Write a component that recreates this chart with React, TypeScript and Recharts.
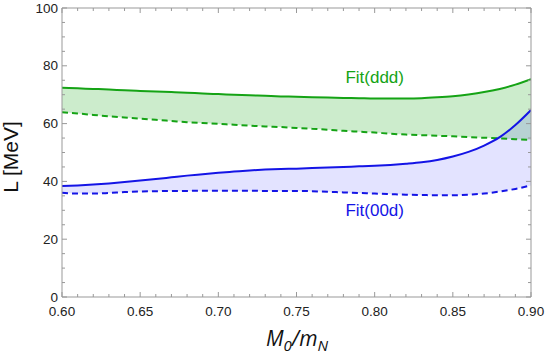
import { ComposedChart, Area, Line, XAxis, YAxis, ReferenceDot } from 'recharts'

// x = M0/mN
const xs = [0.6, 0.61, 0.62, 0.63, 0.64, 0.65, 0.66, 0.67, 0.68, 0.69, 0.7, 0.71, 0.72, 0.73, 0.74, 0.75,
  0.76, 0.77, 0.78, 0.79, 0.8, 0.81, 0.82, 0.83, 0.84, 0.85, 0.86, 0.87, 0.88, 0.89, 0.9]

// Fit(ddd) upper (solid) and lower (dashed)
const dddSolid = [72.4, 72.2, 72.0, 71.8, 71.5, 71.3, 71.1, 70.9, 70.7, 70.4, 70.2, 70.0, 69.8, 69.6, 69.4, 69.3,
  69.1, 69.0, 68.9, 68.8, 68.7, 68.7, 68.7, 68.8, 69.1, 69.5, 70.1, 70.9, 72.0, 73.5, 75.4]
const dddDashed = [63.9, 63.5, 63.0, 62.5, 62.1, 61.7, 61.3, 60.9, 60.5, 60.2, 59.9, 59.6, 59.3, 59.0, 58.8, 58.5,
  58.2, 57.9, 57.5, 57.2, 56.9, 56.5, 56.2, 56.0, 55.8, 55.6, 55.3, 55.1, 54.9, 54.6, 54.4]

// Fit(00d)
const d00Solid = [38.4, 38.6, 38.9, 39.3, 39.8, 40.3, 40.8, 41.4, 42.0, 42.5, 43.0, 43.4, 43.8, 44.1, 44.3, 44.4,
  44.6, 44.8, 45.0, 45.2, 45.4, 45.7, 46.1, 46.6, 47.4, 48.6, 50.2, 52.4, 55.3, 59.5, 64.7]
const d00Dashed = [36.1, 35.8, 35.8, 36.0, 36.3, 36.5, 36.6, 36.7, 36.7, 36.8, 36.8, 36.8, 36.8, 36.7, 36.7, 36.7,
  36.6, 36.4, 36.2, 36.0, 35.8, 35.6, 35.4, 35.3, 35.2, 35.2, 35.4, 35.8, 36.5, 37.4, 38.6]

const xTicks = xs
const yTicks = [0, 5, 10, 15, 20, 25, 30, 35, 40, 45, 50, 55, 60, 65, 70, 75, 80, 85, 90, 95, 100]

const GREEN = '#15a315'
const BLUE = '#1414e6'
const FRAME = '#999999'
const FONT = 'Liberation Sans, Arial, sans-serif'

const data = xs.map((x, i) => ({
  x,
  gs: dddSolid[i],
  gd: dddDashed[i],
  g: [dddDashed[i], dddSolid[i]],
  bs: d00Solid[i],
  bd: d00Dashed[i],
  b: [d00Dashed[i], d00Solid[i]],
}))

const isMajorX = (v: number) => Math.round(v * 100) % 5 === 0
const isMajorY = (v: number) => v % 20 === 0

function BottomTick(props: any) {
  const { x, y, payload } = props
  const major = isMajorX(payload.value)
  return (
    <g>
      <line x1={x} x2={x} y1={y} y2={y - (major ? 5 : 3)} stroke={FRAME} />
      {major && (
        <text x={x} y={y + 19} textAnchor="middle" fontSize={13.5} fontFamily={FONT} fill="#222">
          {payload.value.toFixed(2)}
        </text>
      )}
    </g>
  )
}

function TopTick(props: any) {
  const { x, y, payload } = props
  const major = isMajorX(payload.value)
  return <line x1={x} x2={x} y1={y} y2={y + (major ? 5 : 3)} stroke={FRAME} />
}

function LeftTick(props: any) {
  const { x, y, payload } = props
  const major = isMajorY(payload.value)
  return (
    <g>
      <line x1={x} x2={x + (major ? 5 : 3)} y1={y} y2={y} stroke={FRAME} />
      {major && (
        <text x={x - 4} y={y + 4.5} textAnchor="end" fontSize={13.5} fontFamily={FONT} fill="#222">
          {payload.value}
        </text>
      )}
    </g>
  )
}

function RightTick(props: any) {
  const { x, y, payload } = props
  const major = isMajorY(payload.value)
  return <line x1={x} x2={x - (major ? 5 : 3)} y1={y} y2={y} stroke={FRAME} />
}

export default function App() {
  return (
    <div style={{ position: 'absolute', left: 0, top: 0, width: 548, height: 354, background: '#fff' }}>
      <ComposedChart width={548} height={354} data={data} margin={{ top: 0, right: 0, bottom: 27, left: 0 }}>
        <XAxis xAxisId="b" dataKey="x" type="number" domain={[0.6, 0.9]} ticks={xTicks} interval={0}
          height={30} tickSize={0} tickMargin={0} stroke={FRAME} tick={<BottomTick />} allowDataOverflow />
        <XAxis xAxisId="t" orientation="top" dataKey="x" type="number" domain={[0.6, 0.9]} ticks={xTicks} interval={0}
          height={8} tickSize={0} tickMargin={0} stroke={FRAME} tick={<TopTick />} allowDataOverflow />
        <YAxis yAxisId="l" type="number" domain={[0, 100]} ticks={yTicks} interval={0}
          width={62} tickSize={0} tickMargin={0} stroke={FRAME} tick={<LeftTick />} allowDataOverflow />
        <YAxis yAxisId="r" orientation="right" type="number" domain={[0, 100]} ticks={yTicks} interval={0}
          width={17} tickSize={0} tickMargin={0} stroke={FRAME} tick={<RightTick />} allowDataOverflow />

        <Area xAxisId="b" yAxisId="l" type="monotone" dataKey="g" stroke="none" fill="#00a000" fillOpacity={0.2} isAnimationActive={false} />
        <Area xAxisId="b" yAxisId="l" type="monotone" dataKey="b" stroke="none" fill="#4040ff" fillOpacity={0.15} isAnimationActive={false} />

        <Line xAxisId="b" yAxisId="l" type="monotone" dataKey="gs" stroke={GREEN} strokeWidth={2} dot={false} isAnimationActive={false} />
        <Line xAxisId="b" yAxisId="l" type="monotone" dataKey="gd" stroke={GREEN} strokeWidth={2} strokeDasharray="6 4" dot={false} isAnimationActive={false} />
        <Line xAxisId="b" yAxisId="l" type="monotone" dataKey="bs" stroke={BLUE} strokeWidth={2} dot={false} isAnimationActive={false} />
        <Line xAxisId="b" yAxisId="l" type="monotone" dataKey="bd" stroke={BLUE} strokeWidth={2} strokeDasharray="6 4" dot={false} isAnimationActive={false} />

        <ReferenceDot xAxisId="b" yAxisId="l" x={0.8} y={76} r={0} stroke="none"
          label={{ value: 'Fit(ddd)', position: 'center', fill: GREEN, fontSize: 17, fontFamily: FONT }} />
        <ReferenceDot xAxisId="b" yAxisId="l" x={0.8} y={30} r={0} stroke="none"
          label={{ value: 'Fit(00d)', position: 'center', fill: BLUE, fontSize: 17, fontFamily: FONT }} />
      </ComposedChart>
      <div style={{ position: 'absolute', left: 0, top: 0, width: 548, height: 354, pointerEvents: 'none' }}>
        <svg width={548} height={354}>
          <text x={0} y={0} transform="translate(18,157) rotate(-90)" textAnchor="middle" fontSize={21} fontFamily={FONT} fill="#111">
            L [MeV]
          </text>
          <text x={297} y={346} textAnchor="middle" fontSize={21} fontFamily="Open Sans, sans-serif" fontStyle="italic" fill="#111">
            M<tspan fontSize={15} dy={5}>0</tspan><tspan dy={-5}>/m</tspan><tspan fontSize={15} dy={5}>N</tspan>
          </text>
        </svg>
      </div>
    </div>
  )
}
